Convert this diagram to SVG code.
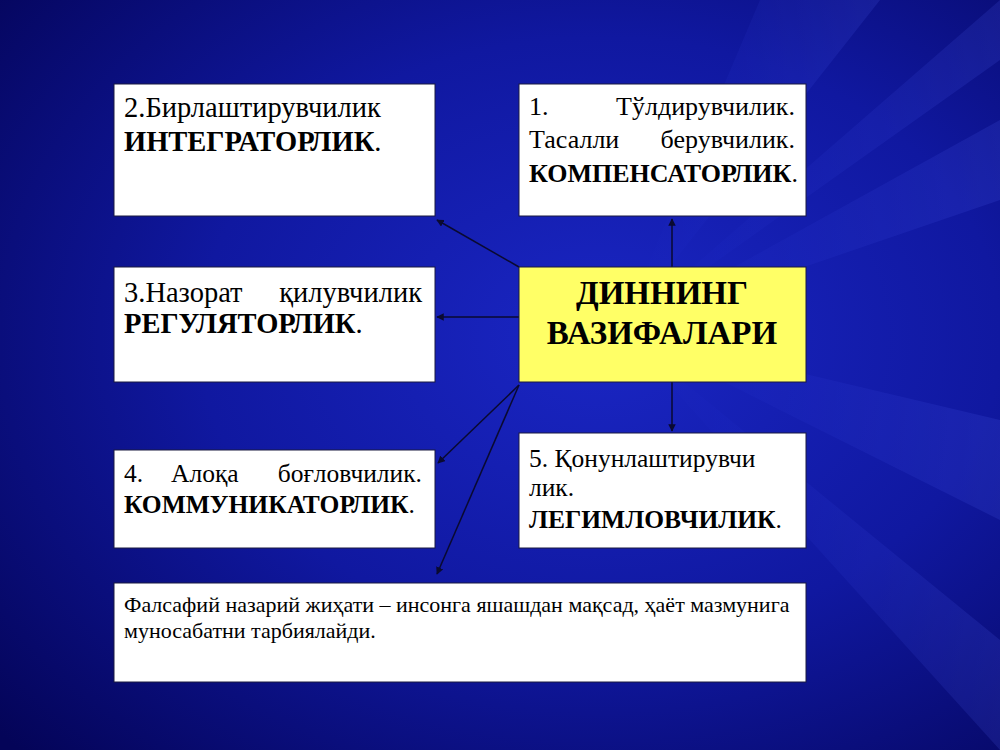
<svg xmlns="http://www.w3.org/2000/svg" width="1000" height="750" viewBox="0 0 1000 750">
<defs>
<radialGradient id="bg" cx="0.6" cy="0.45" r="0.8">
<stop offset="0" stop-color="#1a26c4"/>
<stop offset="0.5" stop-color="#1018a0"/>
<stop offset="1" stop-color="#040458"/>
</radialGradient>
<linearGradient id="ray" x1="0" y1="0" x2="1" y2="0">
<stop offset="0" stop-color="#3a4cff" stop-opacity="0"/>
<stop offset="1" stop-color="#5a6cff" stop-opacity="0.25"/>
</linearGradient>
<marker id="ah" viewBox="0 0 10 10" refX="9" refY="5" markerWidth="5" markerHeight="5" orient="auto">
<path d="M0,0 L10,5 L0,10 z" fill="#0a0a30"/>
</marker>
<style>
.box{fill:#ffffff;stroke:#1a1a40;stroke-width:1}
.center{fill:#ffff66;stroke:#1a1a40;stroke-width:1}
.t{font-size:26px;fill:#000}
.L{font-size:28.5px}
.M{font-size:25.5px}
.b{font-weight:bold}
.c{font-size:33px;font-weight:bold;text-anchor:middle;fill:#000}
.s{font-size:22px;fill:#000}
.conn{stroke:#0a0a30;stroke-width:1.5;fill:none;marker-end:url(#ah)}
</style>
</defs>
<rect x="0" y="0" width="1000" height="750" fill="url(#bg)"/>
<g opacity="0.6">
<polygon points="1000,0 1000,60 620,330" fill="url(#ray)"/>
<polygon points="1000,120 1000,200 620,330" fill="url(#ray)"/>
<polygon points="1000,420 1000,520 620,330" fill="url(#ray)"/>
<polygon points="1000,640 1000,750 620,330" fill="url(#ray)"/>
<polygon points="760,0 880,0 620,330" fill="url(#ray)"/>
</g>
<g id="connectors">
<line class="conn" x1="519" y1="267" x2="437" y2="220"/>
<line class="conn" x1="519" y1="317" x2="437" y2="317"/>
<line class="conn" x1="519" y1="385" x2="438" y2="463"/>
<line class="conn" x1="519" y1="385" x2="437" y2="574"/>
<line class="conn" x1="672" y1="267" x2="672" y2="219"/>
<line class="conn" x1="672" y1="382" x2="672" y2="431"/>
</g>
<g font-family="'Liberation Serif', 'DejaVu Serif', 'Times New Roman', serif" style="font-family:'Liberation Serif','DejaVu Serif','Times New Roman',serif">
<g id="node2">
<rect class="box" x="114" y="84" width="321" height="132"/>
<text class="t L" x="124" y="117">2.Бирлаштирувчилик</text>
<text class="t L" x="124" y="151"><tspan class="b">ИНТЕГРАТОРЛИК</tspan>.</text>
</g>
<g id="node1">
<rect class="box" x="519" y="84" width="287" height="132"/>
<text class="t" x="529" y="115">1.</text>
<text class="t" x="795" y="115" text-anchor="end">Тўлдирувчилик.</text>
<text class="t" x="529" y="148">Тасалли</text>
<text class="t" x="795" y="148" text-anchor="end">берувчилик.</text>
<text class="t" x="529" y="182"><tspan class="b">КОМПЕНСАТОРЛИК</tspan>.</text>
</g>
<g id="node3">
<rect class="box" x="114" y="267" width="321" height="115"/>
<text class="t L" x="124" y="302">3.Назорат</text>
<text class="t L" x="422" y="302" text-anchor="end">қилувчилик</text>
<text class="t L" x="124" y="333"><tspan class="b">РЕГУЛЯТОРЛИК</tspan>.</text>
</g>
<g id="center">
<rect class="center" x="519" y="267" width="287" height="115"/>
<text class="c" x="662" y="304">ДИННИНГ</text>
<text class="c" x="662" y="344">ВАЗИФАЛАРИ</text>
</g>
<g id="node4">
<rect class="box" x="114" y="450" width="321" height="98"/>
<text class="t M" x="124" y="482">4.</text>
<text class="t M" x="171" y="482">Алоқа</text>
<text class="t M" x="422" y="482" text-anchor="end">боғловчилик.</text>
<text class="t M" x="124" y="513"><tspan class="b">КОММУНИКАТОРЛИК</tspan>.</text>
</g>
<g id="node5">
<rect class="box" x="519" y="433" width="287" height="115"/>
<text class="t M" x="529" y="467">5. Қонунлаштирувчи</text>
<text class="t M" x="529" y="496">лик.</text>
<text class="t M" x="529" y="528"><tspan class="b">ЛЕГИМЛОВЧИЛИК</tspan>.</text>
</g>
<g id="node6">
<rect class="box" x="114" y="583" width="692" height="99"/>
<text class="s" x="124" y="612">Фалсафий назарий жиҳати – инсонга яшашдан мақсад, ҳаёт мазмунига</text>
<text class="s" x="124" y="638">муносабатни тарбиялайди.</text>
</g>
</g>
</svg>
